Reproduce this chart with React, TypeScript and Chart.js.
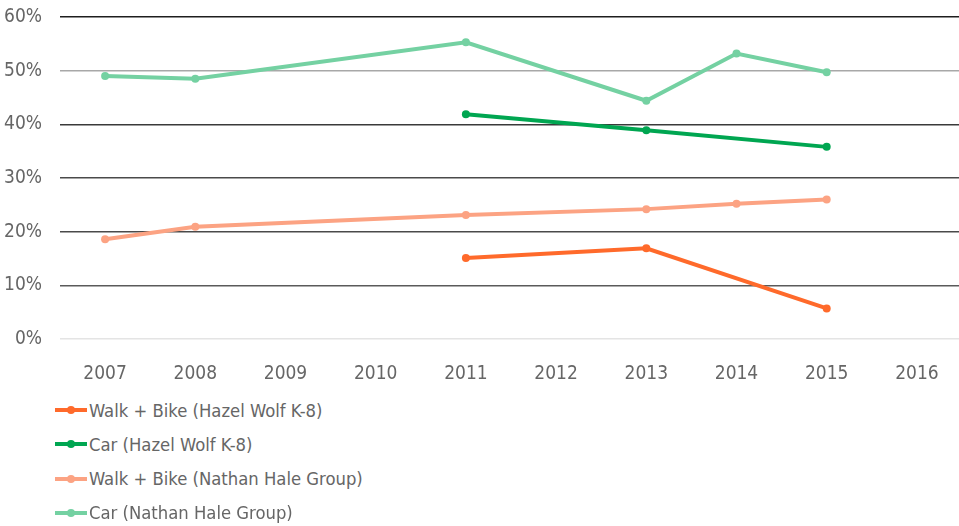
import React, { useEffect, useRef } from "react";
import { Chart, registerables } from "chart.js";

Chart.register(...registerables);

const years = ["2007", "2008", "2009", "2010", "2011", "2012", "2013", "2014", "2015", "2016"];
const walkBikeHazelWolf = [null, null, null, null, 15.1, null, 16.9, null, 5.7, null];
const carHazelWolf = [null, null, null, null, 41.9, null, 38.9, null, 35.8, null];
const walkBikeNathanHale = [18.6, 20.9, null, null, 23.1, null, 24.2, 25.2, 26.0, null];
const carNathanHale = [49.0, 48.5, null, null, 55.3, null, 44.4, 53.2, 49.7, null];

const seriesNames = [
  "Walk + Bike (Hazel Wolf K-8)",
  "Car (Hazel Wolf K-8)",
  "Walk + Bike (Nathan Hale Group)",
  "Car (Nathan Hale Group)",
];
const seriesColors = ["#ff6a2b", "#00a651", "#fca383", "#74d1a2"];
const seriesData = [walkBikeHazelWolf, carHazelWolf, walkBikeNathanHale, carNathanHale];

const FONT = "'DejaVu Sans Condensed', 'Liberation Sans Narrow', Roboto, sans-serif";
const TEXT = "#666666";

const gridColorFor = (v: number) => {
  switch (v) {
    case 60: return "#1e1e1e";
    case 50: return "#a8a8a8";
    case 40: return "#3a3a3a";
    case 30: return "#4a4a4a";
    case 20: return "#4a4a4a";
    case 10: return "#5a5a5a";
    default: return "#e4e4e4";
  }
};

export default function App() {
  const ref = useRef<HTMLCanvasElement | null>(null);

  useEffect(() => {
    document.documentElement.style.overflow = "hidden";
    document.body.style.overflow = "hidden";
    const ctx = ref.current;
    if (!ctx) return;
    const chart = new Chart(ctx, {
      type: "line",
      data: {
        labels: years,
        datasets: seriesData.map((d, i) => ({
          label: seriesNames[i],
          data: d,
          borderColor: seriesColors[i],
          backgroundColor: seriesColors[i],
          borderWidth: 4,
          pointRadius: 4,
          pointHoverRadius: 4,
          pointBorderWidth: 0,
          spanGaps: true,
          tension: 0,
        })),
      },
      options: {
        animation: false,
        responsive: false,
        maintainAspectRatio: false,
        layout: { padding: { top: 17, left: 0, right: 0, bottom: 0 } },
        plugins: {
          legend: { display: false },
          tooltip: { enabled: false },
        },
        scales: {
          x: {
            offset: true,
            grid: { display: false },
            border: { display: false },
            ticks: {
              color: TEXT,
              font: { family: FONT, size: 19 },
              padding: 16,
              maxRotation: 0,
            },
            afterFit: (s: any) => {
              s.height = 53;
              s.paddingLeft = 0;
              s.paddingRight = 0;
            },
          },
          y: {
            min: 0,
            max: 60,
            border: { display: false },
            grid: {
              color: (c: any) => gridColorFor(c.tick.value),
              lineWidth: 1.5,
              drawTicks: false,
            },
            ticks: {
              stepSize: 10,
              color: TEXT,
              font: { family: FONT, size: 19 },
              padding: 18,
              callback: (v: any) => v + "%",
            },
            afterFit: (s: any) => {
              s.width = 60;
              s.paddingTop = 0;
              s.paddingBottom = 0;
            },
          },
        },
      },
    });
    return () => chart.destroy();
  }, []);

  return (
    <div style={{ position: "fixed", left: 0, top: 0, width: 966, height: 526, background: "#fff" }}>
      <canvas ref={ref} width={966} height={392} style={{ display: "block" }} />
      {seriesNames.map((name, i) => (
        <div
          key={name}
          style={{
            position: "absolute",
            left: 55,
            top: 393 + i * 34.3,
            height: 34,
            display: "flex",
            alignItems: "center",
            fontFamily: FONT,
            fontSize: 18.3,
            color: TEXT,
            whiteSpace: "nowrap",
          }}
        >
          <span style={{ position: "relative", width: 32, height: 4, background: seriesColors[i], display: "inline-block" }}>
            <span
              style={{
                position: "absolute",
                left: 12,
                top: -2,
                width: 8,
                height: 8,
                borderRadius: 4,
                background: seriesColors[i],
              }}
            />
          </span>
          <span style={{ marginLeft: 2 }}>{name}</span>
        </div>
      ))}
    </div>
  );
}
